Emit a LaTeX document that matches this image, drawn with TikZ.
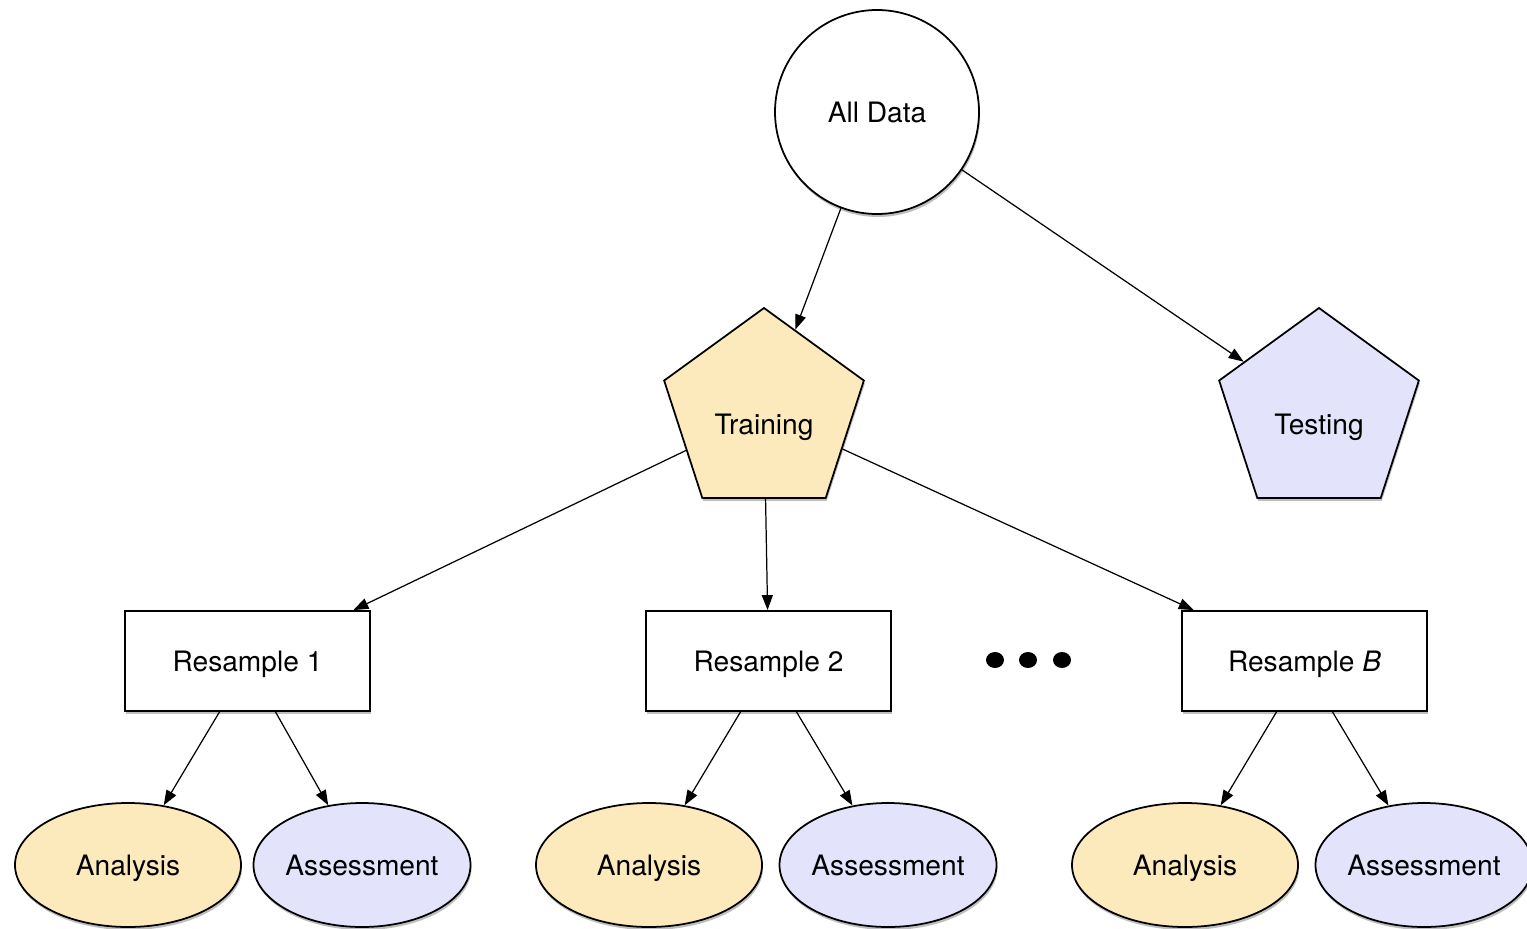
\documentclass[tikz,border=0pt]{standalone}
\usepackage{fontspec}
\setmainfont{TeX Gyre Heros}
\usepackage{tikz}
\usetikzlibrary{shapes.geometric,arrows.meta,shadows}
\definecolor{trainfill}{RGB}{253,234,188}
\definecolor{testfill}{RGB}{227,228,252}
\tikzset{
  shade/.style={drop shadow={shadow xshift=0.02cm,shadow yshift=-0.06cm,opacity=0.25,fill=black}},
  every node/.style={font=\fontsize{16}{19}\selectfont},
  datanode/.style={circle,draw,line width=1pt,fill=white,minimum size=4.08cm,text height=0.42cm,text depth=0.02cm,shade},
  splitnode/.style={regular polygon,regular polygon sides=5,draw,line width=1pt,minimum size=4.2cm,text height=0.86cm,text depth=0.02cm,shade},
  resnode/.style={rectangle,draw,line width=1pt,fill=white,minimum width=4.9cm,minimum height=2cm,text height=0.42cm,text depth=0.02cm,shade},
  fitnode/.style={ellipse,draw,line width=1pt,fill=trainfill,inner sep=0pt,minimum width=4.52cm,minimum height=2.48cm,text height=0.42cm,text depth=0.02cm,shade},
  evalnode/.style={ellipse,draw,line width=1pt,fill=testfill,inner sep=0pt,minimum width=4.34cm,minimum height=2.48cm,text height=0.42cm,text depth=0.02cm,shade},
  arr/.style={-{Triangle[length=0.3cm,width=0.22cm]},line width=0.7pt}
}
\begin{document}
\begin{tikzpicture}

\useasboundingbox (0,0) rectangle (30.54,-18.56);
\clip (0,0) rectangle (30.54,-18.56);

\node[datanode] (alldata) at (17.54,-2.24) {All Data};
\node[splitnode,fill=trainfill] (train) at (15.28,-8.26) {Training};
\node[splitnode,fill=testfill] (test) at (26.38,-8.26) {Testing};

\node[resnode] (res1) at (4.95,-13.22) {Resample 1};
\node[resnode] (res2) at (15.37,-13.22) {Resample 2};
\node[resnode] (resB) at (26.09,-13.22) {Resample \textit{B}};

\fill (19.90,-13.2) ellipse (0.18 and 0.16);
\fill (20.56,-13.2) ellipse (0.18 and 0.16);
\fill (21.24,-13.2) ellipse (0.18 and 0.16);

\node[fitnode] (ana1) at (2.56,-17.3) {Analysis};
\node[evalnode] (ass1) at (7.24,-17.3) {Assessment};
\node[fitnode] (ana2) at (12.98,-17.3) {Analysis};
\node[evalnode] (ass2) at (17.76,-17.3) {Assessment};
\node[fitnode] (anaB) at (23.70,-17.3) {Analysis};
\node[evalnode] (assB) at (28.48,-17.3) {Assessment};

\draw[arr] (alldata) -- (train);
\draw[arr] (alldata) -- (test);
\draw[arr] (train) -- (res1);
\draw[arr] (train) -- (res2);
\draw[arr] (train) -- (resB);

\draw[arr] ([xshift=-0.56cm]res1.south) -- (ana1);
\draw[arr] ([xshift=0.56cm]res1.south) -- (ass1);
\draw[arr] ([xshift=-0.56cm]res2.south) -- (ana2);
\draw[arr] ([xshift=0.56cm]res2.south) -- (ass2);
\draw[arr] ([xshift=-0.56cm]resB.south) -- (anaB);
\draw[arr] ([xshift=0.56cm]resB.south) -- (assB);
\end{tikzpicture}
\end{document}
